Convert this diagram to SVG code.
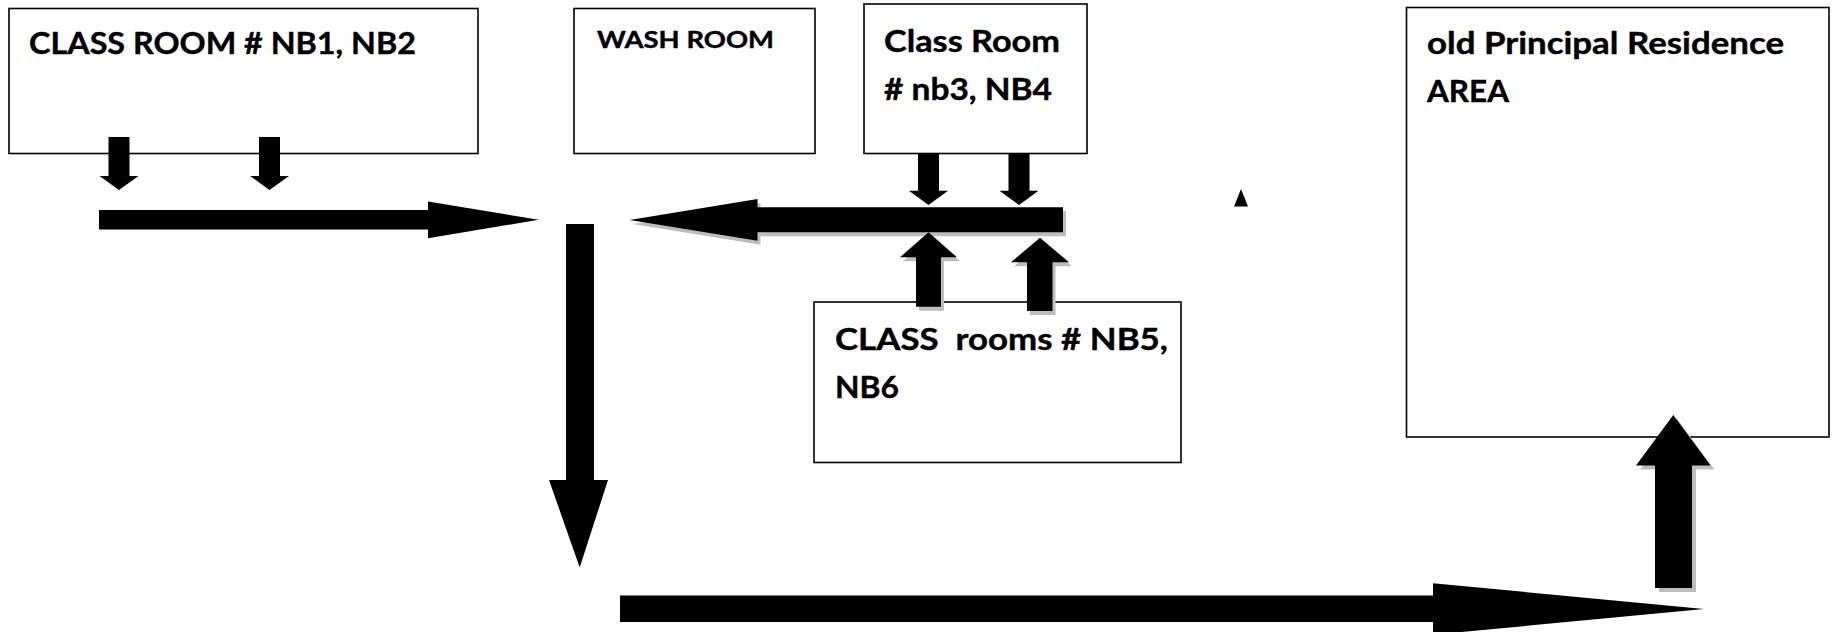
<svg xmlns="http://www.w3.org/2000/svg" width="1836" height="632" viewBox="0 0 1836 632">
<style>
.box{fill:#fff;stroke:#000;stroke-width:1.6}
.lbl{font-family:Lato,"Liberation Sans",sans-serif;font-weight:bold;font-size:30.5px;fill:#000;stroke:#000;stroke-width:0.4}
.sm{font-size:23px}
.arr{fill:#000}
.sh{fill:#bdbdbd}
</style>
<rect width="1836" height="632" fill="#fff"/>
<g id="nb1-nb2">
<rect class="box" x="9" y="8.5" width="469" height="145"/>
<text class="lbl" x="29" y="54" textLength="387" lengthAdjust="spacingAndGlyphs">CLASS ROOM # NB1, NB2</text>
</g>
<g id="wash-room">
<rect class="box" x="574" y="8.5" width="241" height="145"/>
<text class="lbl sm" x="597" y="47.5" textLength="177" lengthAdjust="spacingAndGlyphs">WASH ROOM</text>
</g>
<g id="nb3-nb4">
<rect class="box" x="864" y="4" width="223" height="149.5"/>
<text class="lbl" x="884" y="51.5" textLength="176" lengthAdjust="spacingAndGlyphs">Class Room</text>
<text class="lbl" x="884" y="99.5" textLength="168" lengthAdjust="spacingAndGlyphs"># nb3, NB4</text>
</g>
<g id="nb5-nb6">
<rect class="box" x="814" y="302" width="367" height="160.5"/>
<text class="lbl" x="835" y="349.5" textLength="333" lengthAdjust="spacingAndGlyphs" xml:space="preserve">CLASS  rooms # NB5,</text>
<text class="lbl" x="835" y="398" textLength="64" lengthAdjust="spacingAndGlyphs">NB6</text>
</g>
<g id="principal-residence">
<rect class="box" x="1406.5" y="7.5" width="422.5" height="429.5"/>
<text class="lbl" x="1427" y="54" textLength="357" lengthAdjust="spacingAndGlyphs">old Principal Residence</text>
<text class="lbl" x="1427" y="102" textLength="82" lengthAdjust="spacingAndGlyphs">AREA</text>
</g>
<g id="connectors">
<polygon class="arr" points="108.5,137 129.5,137 129.5,176 138.5,176 119,190 99.5,176 108.5,176"/>
<polygon class="arr" points="259,137 280,137 280,176 289,176 269.5,190 250,176 259,176"/>
<polygon class="arr" points="99,210 428,210 428,201.5 538.6,219.8 428,238.3 428,229.5 99,229.5"/>
<polygon class="arr" points="918,153.3 939,153.3 939,190.7 948,190.7 928.5,205 909,190.7 918,190.7"/>
<polygon class="arr" points="1008.5,153.3 1029.5,153.3 1029.5,190.7 1038.5,190.7 1019,205 999.5,190.7 1008.5,190.7"/>
<g transform="translate(3,4)"><polygon class="sh" points="1063,207.3 757.5,207.3 757.5,199 629.6,220 757.5,240.7 757.5,232.3 1063,232.3"/></g>
<polygon class="arr" points="1063,207.3 757.5,207.3 757.5,199 629.6,220 757.5,240.7 757.5,232.3 1063,232.3"/>
<g transform="translate(3,4)">
<polygon class="sh" points="916,306.7 941,306.7 941,257.3 957,257.3 928.5,232.3 900,257.3 916,257.3"/>
<polygon class="sh" points="1027,311 1052.5,311 1052.5,262.3 1069,262.3 1040,237.7 1011,262.3 1027,262.3"/>
</g>
<polygon class="arr" points="916,306.7 941,306.7 941,257.3 957,257.3 928.5,232.3 900,257.3 916,257.3"/>
<polygon class="arr" points="1027,311 1052.5,311 1052.5,262.3 1069,262.3 1040,237.7 1011,262.3 1027,262.3"/>
<polygon class="arr" points="566,224 594,224 594,480 608,480 579.7,567.5 549,480 566,480"/>
<polygon class="arr" points="620,595.5 1433,595.5 1433,583.3 1704,609 1433,634.7 1433,622 620,622"/>
<g transform="translate(4,4)"><polygon class="sh" points="1655,588 1692,588 1692,465.5 1710.5,465.5 1673.3,415 1636,465.5 1655,465.5"/></g>
<polygon class="arr" points="1655,588 1692,588 1692,465.5 1710.5,465.5 1673.3,415 1636,465.5 1655,465.5"/>
<polygon class="arr" points="1234,206.5 1248,206.5 1241,189"/>
</g>
</svg>
